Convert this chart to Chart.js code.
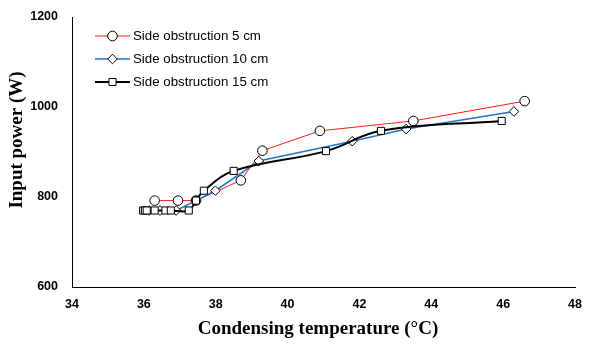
<!DOCTYPE html>
<html><head><meta charset="utf-8">
<script src="https://cdn.jsdelivr.net/npm/chart.js@4"></script>
<style>html,body{margin:0;padding:0;background:#fff}#w{width:595px;height:346px}</style>
</head><body><div id="w"><canvas id="c" width="595" height="346"></canvas></div>
<script>
const seriesNames = ["Side obstruction 5 cm", "Side obstruction 10 cm", "Side obstruction 15 cm"];
const xTitle = "Condensing temperature (°C)";
const yTitle = "Input power (W)";
const red5T = [36.3, 36.95, 37.45, 38.7, 39.3, 40.9, 43.5, 46.6];
const red5P = [792, 792, 792, 837, 903, 947, 969, 1013];
const blue10T = [36.15, 36.45, 36.9, 37.45, 37.99, 39.2, 41.8, 43.3, 46.3];
const blue10P = [770, 770, 770, 792, 814, 880, 924, 951, 990];
const black15T = [35.98, 36.03, 36.08, 36.3, 36.6, 36.75, 37.25, 37.45, 37.67, 38.5, 41.07, 42.6, 45.96];
const black15P = [770, 770, 770, 770, 770, 770, 770, 792, 814, 858, 902, 947, 969];
const xTicks = [34, 36, 38, 40, 42, 44, 46, 48];
const yTicks = [600, 800, 1000, 1200];

const pts = (xs, ys) => xs.map((x, i) => ({x: x, y: ys[i]}));

const styles = [
  {color: '#ff1a1a', width: 1, marker: 'circle', radius: 4.8, tension: 0, order: 2},
  {color: '#1f78c8', width: 1.6, marker: 'rectRot', radius: 4.8, tension: 0, order: 1},
  {color: '#000000', width: 2, marker: 'rect', radius: 5, tension: 0.4, order: 0}
];
const dataArr = [pts(red5T, red5P), pts(blue10T, blue10P), pts(black15T, black15P)];

const datasets = dataArr.map((d, i) => ({
  label: seriesNames[i],
  data: d,
  borderColor: styles[i].color,
  borderWidth: styles[i].width,
  pointStyle: styles[i].marker,
  pointRadius: styles[i].radius,
  pointBorderColor: '#000',
  pointBackgroundColor: '#fff',
  pointBorderWidth: 1,
  tension: styles[i].tension,
  order: styles[i].order,
  fill: false
}));

const titleFont = 'bold 19px "Liberation Serif", "Times New Roman", serif';

const overlayPlugin = {
  id: 'overlay',
  afterDraw(chart) {
    const ctx = chart.ctx;
    ctx.save();
    const x0 = 95, x1 = 130, y0 = 36, dy = 23;
    datasets.forEach((ds, i) => {
      const y = y0 + i * dy;
      ctx.strokeStyle = ds.borderColor;
      ctx.lineWidth = ds.borderWidth;
      ctx.beginPath(); ctx.moveTo(x0, y); ctx.lineTo(x1, y); ctx.stroke();
      ctx.fillStyle = '#fff'; ctx.strokeStyle = '#000'; ctx.lineWidth = 1;
      Chart.helpers.drawPoint(ctx, {pointStyle: ds.pointStyle, radius: ds.pointRadius, borderWidth: 1}, (x0 + x1) / 2, y);
      ctx.fillStyle = '#000';
      ctx.font = '13.3px "Liberation Sans", Arial, sans-serif';
      ctx.textBaseline = 'middle';
      ctx.textAlign = 'left';
      ctx.fillText(ds.label, 133, y + 0.5);
    });
    // axis titles
    ctx.font = titleFont;
    ctx.fillStyle = '#000';
    ctx.textAlign = 'center';
    ctx.textBaseline = 'middle';
    ctx.fillText(xTitle, 318, 329);
    ctx.translate(17, 140);
    ctx.rotate(-Math.PI / 2);
    ctx.fillText(yTitle, 0, 0);
    ctx.restore();
  }
};

const tickFont = {family: '"Liberation Sans", Arial, sans-serif', size: 12.5, weight: 'bold'};

new Chart(document.getElementById('c'), {
  type: 'line',
  data: {datasets: datasets},
  options: {
    responsive: false,
    animation: false,
    layout: {padding: {top: 17, right: 20, left: 0, bottom: 0}},
    plugins: {legend: {display: false}, tooltip: {enabled: false}},
    scales: {
      x: {
        type: 'linear', min: 34, max: 48,
        afterBuildTicks: s => { s.ticks = xTicks.map(v => ({value: v})); },
        afterFit: s => { s.height = 59; },
        grid: {display: false, drawOnChartArea: false, drawTicks: true, tickLength: 5, tickColor: '#000'},
        border: {display: true, color: '#000', width: 1},
        ticks: {color: '#000', font: tickFont, padding: 5, maxRotation: 0, callback: v => String(v)}
      },
      y: {
        type: 'linear', min: 600, max: 1200,
        afterBuildTicks: s => { s.ticks = yTicks.map(v => ({value: v})); },
        afterFit: s => { s.width = 72; },
        grid: {display: false, drawOnChartArea: false, drawTicks: true, tickLength: 5, tickColor: '#000'},
        border: {display: true, color: '#000', width: 1},
        ticks: {color: '#000', font: tickFont, padding: 9, callback: v => String(v)}
      }
    }
  },
  plugins: [overlayPlugin]
});
</script></body></html>
